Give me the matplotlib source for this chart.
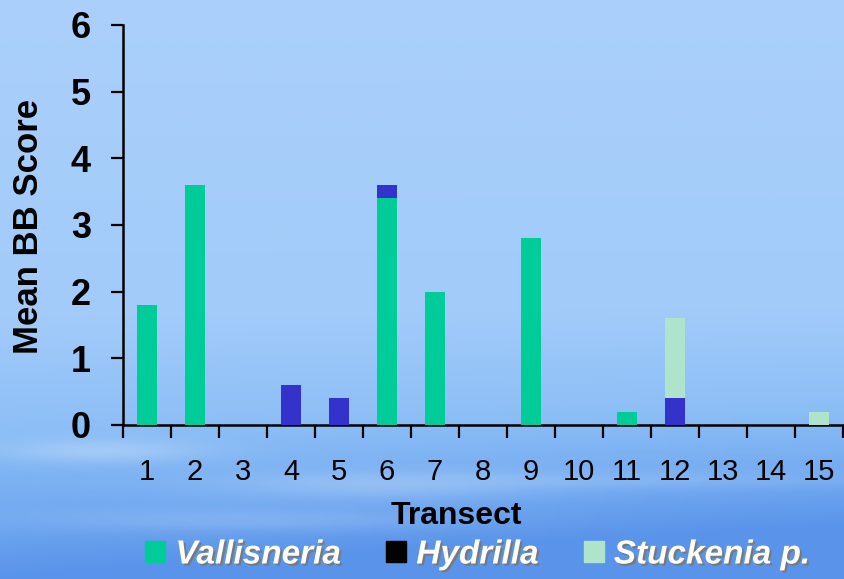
import numpy as np
import matplotlib
matplotlib.use('Agg')
import matplotlib.pyplot as plt
import matplotlib.patheffects as pe
from matplotlib.patches import Patch
from matplotlib.colors import LinearSegmentedColormap

plt.rcParams['font.family'] = ['Liberation Sans', 'DejaVu Sans']

# Mean BB score per transect, stacked by species
transects = [str(i) for i in range(1, 16)]
vallisneria = [1.8, 3.6, 0, 0, 0, 3.4, 2.0, 0, 2.8, 0, 0.2, 0, 0, 0, 0]
hydrilla = [0, 0, 0, 0.6, 0.4, 0.2, 0, 0, 0, 0, 0, 0.4, 0, 0, 0]
stuckenia = [0, 0, 0, 0, 0, 0, 0, 0, 0, 0, 0, 1.2, 0, 0, 0.2]

c_vall = '#00cc99'
c_hyd = '#3333cc'
c_stu = '#aee3cc'

fig = plt.figure(figsize=(8.44, 5.79), dpi=100)

# sky-like backdrop
bg = fig.add_axes([0, 0, 1, 1], zorder=-10)
bg.axis('off')
sky = LinearSegmentedColormap.from_list('sky', [
    (0.0, (170/255, 208/255, 250/255)),
    (0.55, (162/255, 203/255, 250/255)),
    (0.75, (140/255, 190/255, 246/255)),
    (0.9, (112/255, 168/255, 240/255)),
    (1.0, (90/255, 148/255, 234/255)),
])
yy, xx = np.mgrid[0:1:300j, 0:1:400j]
grad = yy + 0.12 * xx * yy ** 3
img = sky(np.clip(grad, 0, 1))
# a few faint cloud streaks
for cx, cy, sx, sy, a in [(0.12, 0.78, 0.12, 0.02, 0.25), (0.45, 0.84, 0.2, 0.025, 0.2),
                          (0.3, 0.9, 0.25, 0.02, 0.15), (0.75, 0.83, 0.3, 0.015, 0.12)]:
    blob = a * np.exp(-((xx - cx) / sx) ** 2 - ((yy - cy) / sy) ** 2)
    img[..., :3] = img[..., :3] * (1 - blob[..., None]) + blob[..., None]
bg.imshow(img, aspect='auto', extent=[0, 1, 0, 1], origin='upper')
bg.set_xlim(0, 1)
bg.set_ylim(0, 1)

ax = fig.add_axes([123/844, 1 - 425/579, 720/844, 400/579])
ax.set_facecolor('none')

x = np.arange(1, 16)
w = 0.42
v = np.array(vallisneria)
h = np.array(hydrilla)
s = np.array(stuckenia)
ax.bar(x, v, w, color=c_vall, zorder=3)
ax.bar(x, h, w, bottom=v, color=c_hyd, zorder=3)
ax.bar(x, s, w, bottom=v + h, color=c_stu, zorder=3)

ax.set_xlim(0.5, 15.5)
ax.set_ylim(0, 6)
ax.set_yticks(range(0, 7))
ax.tick_params(axis='y', length=9, width=1.6, pad=14, labelsize=26)
for t in ax.get_yticklabels():
    t.set_fontweight('bold')

ax.set_xticks(np.arange(0.5, 15.6, 1))
ax.set_xticklabels([])
ax.tick_params(axis='x', which='major', length=9, width=1.6, direction='out')
ax.set_xticks(x, minor=True)
ax.set_xticklabels(transects, minor=True)
ax.tick_params(axis='x', which='minor', length=0, pad=24, labelsize=21)

for side in ['top', 'right']:
    ax.spines[side].set_visible(False)
for side in ['left', 'bottom']:
    ax.spines[side].set_linewidth(1.8)

fig.text(28/844, 1 - 226/579, 'Mean BB Score', rotation=90, ha='center', va='center',
         fontsize=25, fontweight='bold')
fig.text(456/844, 1 - 516/579, 'Transect', ha='center', va='center',
         fontsize=23, fontweight='bold')

handles = [Patch(color=c_vall), Patch(color='black'), Patch(color=c_stu)]
leg = fig.legend(handles, ['Vallisneria', 'Hydrilla', 'Stuckenia p.'],
                 loc='center', bbox_to_anchor=(478/844, 1 - 555/579), ncol=3,
                 frameon=False, handlelength=0.6, handleheight=0.6,
                 handletextpad=0.3, columnspacing=1.35,
                 prop={'size': 24, 'weight': 'bold', 'style': 'italic'})
for t in leg.get_texts():
    t.set_color('white')
    t.set_path_effects([pe.withSimplePatchShadow(offset=(1.5, -1.5), shadow_rgbFace='#777777', alpha=0.9)])

fig.savefig('out.png', dpi=100)
